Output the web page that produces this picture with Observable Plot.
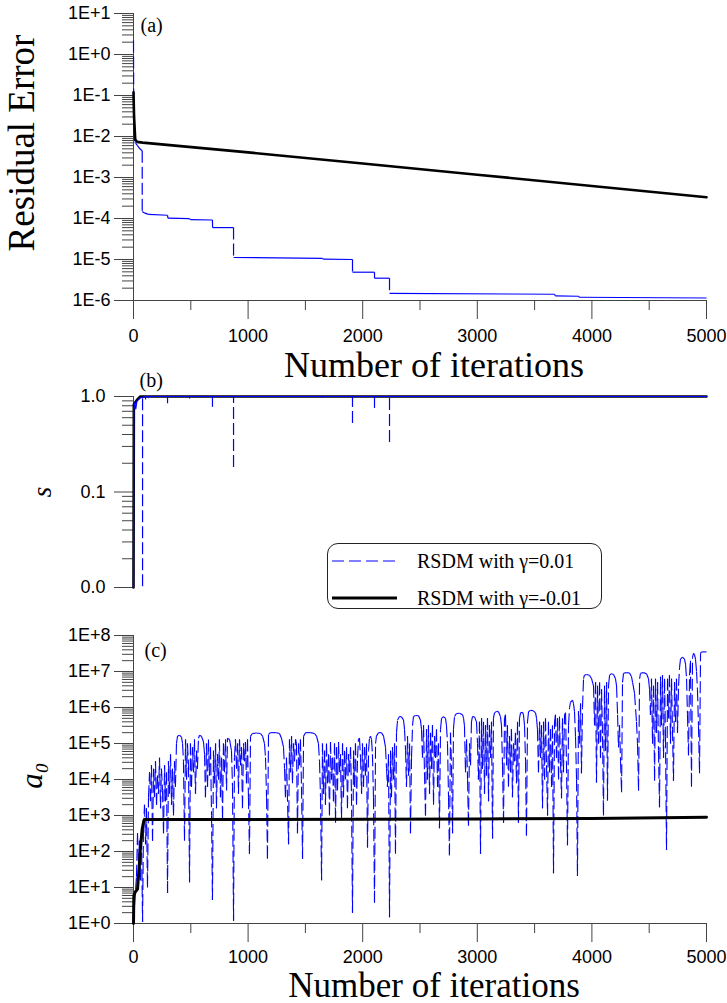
<!DOCTYPE html>
<html>
<head>
<meta charset="utf-8">
<script src="https://cdn.jsdelivr.net/npm/d3@7"></script>
<script src="https://cdn.jsdelivr.net/npm/@observablehq/plot@0.6"></script>
<style>
  html, body { margin: 0; padding: 0; background: #fff; }
  #fig { position: relative; width: 727px; height: 1003px; overflow: hidden; background: #fff; }
  #fig svg.panel { position: absolute; left: 0; }
  #legend { position: absolute; left: 327px; top: 543px; width: 273px; height: 64px;
            border: 1px solid #222; border-radius: 11px; background: #fff; }
</style>
</head>
<body>
<div id="fig"></div>
<script>
// ---- series: [iteration, value] ----
const seriesNames = ["RSDM with γ=0.01", "RSDM with γ=-0.01"];

// (a) residual error
const residualPos = [[0,2.2],[2,0.04],[5,0.015],[10,0.0072],[20,0.0068],[35,0.006],[55,0.005],[76,0.0045],
  [76,1.48e-4],[100,1.35e-4],[131,1.26e-4],[297,1.2e-4],[300,1.02e-4],[489,9.9e-5],[495,9.4e-5],[689,9.2e-5],
  [690,6.0e-5],[873,6.0e-5],[873,1.12e-5],[1649,1.07e-5],[1655,1.02e-5],[1911,1.0e-5],[1911,4.9e-6],[2103,4.9e-6],
  [2103,3.5e-6],[2234,3.5e-6],[2234,1.5e-6],[3674,1.42e-6],[3680,1.3e-6],[3883,1.27e-6],[3890,1.2e-6],[5000,1.15e-6]];
const residualNeg = [[0,0.12],[5,0.03],[15,0.0085],[30,0.0074],[80,0.0071],[1000,4.1e-3],[2000,2.2e-3],
  [3000,1.17e-3],[4000,6.2e-4],[5000,3.3e-4]];

// (b) step factor s
const sPos = [[0,0.01],[2,0.72],[10,0.86],[20,0.74],[30,0.9],[45,0.93],[60,0.97],[95,0.99],[120,1],[5000,1]];
const sPosDips = [[79,0.0102],[105,0.92],[131,0.95],[297,0.84],[489,0.94],[689,0.77],[873,0.18],[1649,0.96],
  [1911,0.52],[2103,0.75],[2234,0.33],[3674,0.97],[3883,0.97]];
const sNeg = [[0,0.01],[3,0.83],[30,0.92],[60,1],[5000,1]];

// (c) a0
const a0Pos = [
  [0,1],[9,3.2],[26,20],[35,320],[44,40],[52,200],[61,16],[70,250],[79,1.1],[87,400],[96,2000],[105,160],[113,1600],[122,10],[131,3200],
  [140,1.6e4],[148,2500],[157,2.5e4],[166,200],[175,2e4],[183,3200],[192,3.2e4],[201,2000],[209,1.3e4],[218,4000],[227,4e4],[236,1600],
  [244,2e4],[253,5000],[262,320],[271,2.5e4],[279,2500],[288,1.6e4],[297,7],[305,3.2e4],[314,4000],[323,5e4],[332,2000],[340,2e4],
  [349,1000],[358,3.2e4],[366,6300],
  [375,1e5],[384,1.6e5],[401,1.7e5],[419,1.5e5],[428,1e5],[436,3.2e4],[445,200],
  [454,1.3e5],[463,1e4],[471,1e5],[480,2.5e4],[489,14],[497,1e5],[506,6300],[515,7.9e4],[524,1.6e4],[532,1.3e5],[541,4000],[550,6.3e4],
  [558,2e4],[567,1.4e5],[576,1.7e5],[593,1.6e5],[611,1.1e5],[620,5e4],[628,3200],[637,1e5],[646,6300],[654,1.3e5],[663,1.3e4],[672,7.9e4],
  [681,1000],[689,4.5],[698,6.3e4],[707,7900],[716,1e5],[724,1600],[733,5e4],[742,1e4],[750,1.3e5],[759,3200],[768,4e4],[777,800],
  [785,1e5],[794,1.6e4],[803,1.3e5],[812,5000],[820,1.4e5],[838,1.3e5],[855,6.3e4],[864,6300],[873,1.2],[881,4e4],[890,1.3e5],[899,2e4],
  [908,1e5],[916,4000],[925,1.3e5],[934,2.5e4],[942,7.9e4],[951,1600],[960,1e5],[969,3.2e4],[977,1.1e5],[986,7900],[995,1.3e5],[1003,3200],
  [1012,87],
  [1021,1.6e5],[1038,1.9e5],[1073,1.95e5],[1108,1.9e5],[1126,1.6e5],[1143,1e5],[1152,4e4],[1161,3200],[1169,63],
  [1178,1.8e5],[1195,2e5],[1248,2e5],[1274,1.9e5],[1291,1.4e5],[1309,7.9e4],[1318,2e4],[1326,3200],[1335,4e4],[1353,160],
  [1361,1.3e5],[1370,1.6e4],[1379,1.6e5],[1387,7900],[1396,1e5],[1405,3.2e4],[1414,1.3e5],[1422,1e5],[1431,320],[1440,1e5],[1449,2.5e4],
  [1457,1.3e5],[1466,6300],[1475,63],
  [1484,1.6e5],[1501,2e5],[1545,2e5],[1579,1.9e5],[1597,1.6e5],[1614,1e5],[1623,3.2e4],[1632,3200],[1641,16],
  [1649,1e5],[1658,4000],[1667,6.3e4],[1675,2000],[1684,1e5],[1693,7900],[1702,5e4],[1710,1000],[1719,1.1e5],[1728,1e4],[1737,4e4],
  [1745,2500],[1754,1e5],[1763,630],[1771,7.9e4],[1780,5000],[1789,1.1e5],[1798,1.6e4],[1806,5e4],[1815,800],[1824,1e5],[1832,3200],
  [1841,6.3e4],[1850,1e4],[1859,7.9e4],[1867,1600],[1876,5e4],[1885,1.6e4],[1894,7.9e4],[1902,4000],[1911,2],[1920,6.3e4],[1928,6300],
  [1937,1e5],[1946,2000],[1955,4e4],[1963,1.3e5],[1972,1.4e5],[1981,4e4],[1990,4000],
  [1998,1e5],[2007,6300],[2016,7.9e4],[2024,1.3e4],[2033,1e5],[2042,130],[2051,6.3e4],
  [2059,1.4e5],[2068,1.6e5],[2077,1.3e5],[2085,5e4],[2094,3200],[2103,3.8],
  [2112,1e5],[2120,1.6e5],[2138,2e5],[2164,2e5],[2182,1.6e5],[2199,7.9e4],[2208,2e4],
  [2216,6300],[2225,5e4],[2234,1.5],[2243,6.3e4],[2251,3200],[2260,7.9e4],[2269,1e4],[2278,1e5],[2286,87],
  [2295,2e5],[2304,4.5e5],[2321,5.6e5],[2339,5.5e5],[2356,4.5e5],[2365,2.5e5],[2374,6.3e4],
  [2382,6300],[2391,1.6e5],[2400,1.3e4],[2409,1e5],[2417,320],[2426,4e4],
  [2435,3.2e5],[2443,5.6e5],[2461,6e5],[2487,5.9e5],[2504,4.5e5],[2513,2.5e5],
  [2522,4e4],[2531,3.2e5],[2539,1.6e4],[2548,1000],[2557,2.5e5],[2565,1e4],[2574,3.2e5],[2583,4000],[2592,2e5],[2600,2e4],[2609,3.2e5],
  [2618,2000],[2627,1.6e5],[2635,4e4],[2644,2.5e5],[2653,6300],[2661,1e5],[2670,440],
  [2679,2.5e5],[2688,5e5],[2705,5.6e5],[2723,5e5],[2731,3.2e5],[2740,1e5],[2749,3200],
  [2757,79],[2766,2e5],[2775,2.5e4],[2784,320],[2792,2.5e5],
  [2801,5.6e5],[2818,6.8e5],[2845,6.9e5],[2871,6.3e5],[2880,5e5],[2888,3.2e5],
  [2897,1.6e4],[2906,1.3e5],[2915,1e4],[2923,520],[2932,1e5],[2941,2.5e4],
  [2949,4e5],[2958,5.6e5],[2976,5.5e5],[2993,4e5],[3002,1e5],
  [3010,1e4],[3019,4e5],[3028,87],[3037,5e5],[3045,2e4],[3054,4e5],[3063,4000],[3072,3.2e5],[3080,1.3e4],[3089,5e5],[3098,2500],
  [3106,3.2e5],[3115,4e4],[3124,4e5],[3133,230],
  [3141,5e5],[3150,7.1e5],[3168,7.8e5],[3185,7.6e5],[3202,5.6e5],[3211,3.2e5],[3220,2.5e4],[3229,630],
  [3237,5e5],[3246,6.3e5],[3255,2.5e4],[3263,3.2e5],[3272,6300],[3281,1.6e5],[3290,1.6e4],[3298,2.5e5],[3307,3200],[3316,1e5],
  [3325,3.2e4],[3333,2e5],[3342,7900],[3351,4e5],[3359,630],
  [3368,5e5],[3377,7.1e5],[3394,7.4e5],[3403,6.3e5],[3412,3.2e5],[3421,3.2e4],[3429,280],
  [3438,4e5],[3447,7.6e5],[3464,8.3e5],[3490,8.1e5],[3508,7.1e5],[3517,5e5],[3525,2.5e5],
  [3534,1.6e4],[3543,4e5],[3552,4e4],[3560,3.2e5],[3569,1600],[3578,4e5],[3587,1e4],[3595,5e5],[3604,2.5e4],[3613,1000],[3621,4e5],
  [3630,1.6e4],[3639,2.5e5],[3648,6300],[3656,3.2e5],[3665,25],[3674,4e5],
  [3682,6.3e5],[3691,4e4],[3700,5e5],[3709,1e4],[3717,5.6e5],[3726,3.2e4],[3735,3000],[3743,5e5],[3752,1.6e4],[3761,6.3e5],[3770,7.1e5],
  [3778,3.2e4],[3787,150],
  [3796,3.2e5],[3805,1e6],[3813,1.4e6],[3831,1.6e6],[3839,1.3e6],[3848,7.9e5],[3857,1.6e5],[3866,1e4],[3874,21],
  [3883,7.9e5],[3892,1e5],[3901,1.3e6],[3909,1.5e4],[3918,1e6],
  [3927,6.3e6],[3935,7.9e6],[3953,8.3e6],[3979,7.9e6],[3997,6.3e6],[4014,4e6],
  [4023,3.2e5],[4032,5e6],[4040,8300],[4049,4e6],[4058,1e5],[4067,5e6],[4075,4e4],[4084,3.2e6],[4093,1.6e5],[4101,1000],[4110,4e6],
  [4119,6.3e4],[4128,5e6],[4136,2600],
  [4145,4e6],[4154,7.9e6],[4171,8.7e6],[4189,8.3e6],[4206,6.3e6],[4215,4e6],
  [4224,6.3e5],[4232,7.9e4],[4241,3.2e5],[4250,3.2e4],[4259,4400],
  [4267,5e6],[4276,8.9e6],[4302,9.3e6],[4328,9.1e6],[4346,7.1e6],[4355,5e6],[4372,2.5e6],[4389,4e5],[4398,1e5],[4407,4900],
  [4416,6.3e6],[4424,8.9e6],[4451,9.3e6],[4477,8.7e6],[4494,6.3e6],[4503,3.2e6],
  [4511,6.3e5],[4520,6.3e6],[4529,1e5],[4538,4e6],[4547,9300],[4555,6.3e6],[4564,2e5],[4573,5e6],[4581,6.3e4],[4590,1700],[4599,7.1e6],
  [4607,3.2e5],[4616,7.9e6],[4625,4e4],[4634,6.3e6],[4642,1.6e5],[4651,110],[4660,6.3e6],[4669,5e5],[4677,7.9e6],[4686,1e5],[4695,6.3e6],
  [4703,2.5e5],[4712,9300],[4721,5e6],[4730,4e5],[4738,6.3e6],[4747,2e5],[4756,4e6],
  [4765,1.3e7],[4773,2.2e7],[4791,2.5e7],[4808,2.2e7],[4817,1.6e7],[4826,6.3e6],[4834,6.3e5],[4843,4.7e4],[4852,7.9e6],
  [4860,2e7],[4869,6300],[4878,2.5e7],[4887,3.2e7],[4895,3e7],[4904,2.2e7],[4913,1e7],[4921,3.2e6],[4930,3.2e5],[4939,1.5e4],
  [4948,3.2e7],[4956,3.5e7],[5000,3.5e7]
];
const a0Neg = [[0,1],[3,6],[15,7.5],[35,9],[50,40],[61,130],[75,400],[90,730],[100,770],[110,775],
  [1000,775],[2000,785],[3000,800],[4000,830],[5000,890]];

// ---- axis ticks ----
const xMajor = [0, 1000, 2000, 3000, 4000, 5000];
const xMinor = [500, 1500, 2500, 3500, 4500];
const residualTicks = [1e-6, 1e-5, 1e-4, 1e-3, 1e-2, 1e-1, 1, 10];
const sTicks = [0.01, 0.1, 1];
const a0Ticks = [1, 10, 1e2, 1e3, 1e4, 1e5, 1e6, 1e7, 1e8];

// ---- helpers ----
const BLUE = "#0000ff", AXIS = "#444";
const SERIF = "'Liberation Serif', 'Times New Roman', serif";
const SANS = "'Liberation Sans', Arial, sans-serif";
const fmtE = d => { const e = Math.round(Math.log10(d)); return "1E" + (e < 0 ? "-" : "+") + Math.abs(e); };
const fmtInt = d3.format("d");
const none = () => "";
function logMinors(lo, hi) {
  const out = [];
  for (let e = Math.floor(Math.log10(lo)); e < Math.ceil(Math.log10(hi)); e++)
    for (let m = 2; m <= 9; m++) { const v = m * Math.pow(10, e); if (v > lo * 1.0001 && v < hi * 0.9999) out.push(v); }
  return out;
}
const segments = pts => d3.pairs(pts).map(([a, b]) => ({x1: a[0], y1: a[1], x2: b[0], y2: b[1]}));
const X = d => d[0], Y = d => d[1];

function yAxes(ticks, fmt, pad) {
  const [lo, hi] = d3.extent(ticks);
  return [
    Plot.axisY({ticks, tickSize: 19, tickPadding: pad, tickFormat: fmt, stroke: AXIS, label: null,
                fontSize: 18, fontFamily: SANS}),
    Plot.axisY({ticks: logMinors(lo, hi), tickSize: 11, tickFormat: none, stroke: AXIS, label: null}),
    Plot.ruleX([0], {stroke: AXIS})
  ];
}
function xAxes(yBase, pad) {
  return [
    Plot.axisX({ticks: xMajor, tickSize: 19, tickPadding: pad, tickFormat: fmtInt, stroke: AXIS, label: null,
                fontSize: 18, fontFamily: SANS}),
    Plot.axisX({ticks: xMinor, tickSize: 10, tickFormat: none, stroke: AXIS, label: null}),
    Plot.ruleY([yBase], {stroke: AXIS})
  ];
}
const base = {width: 727, marginLeft: 133, marginRight: 21,
              style: {background: "transparent", color: "#000", fontFamily: SANS}};
const panelTag = (t, dx, dy) => Plot.text([t], {frameAnchor: "top-left", textAnchor: "start", lineAnchor: "middle",
                                                dx, dy, fontSize: 20, fontFamily: SERIF});
const xTitle = (dy, size) => Plot.text(["Number of iterations"], {frameAnchor: "bottom", textAnchor: "middle", lineAnchor: "bottom",
                                                                  dx: 14, dy, fontSize: size, fontFamily: SERIF});

const fig = document.getElementById("fig");
function place(svg, top) { svg.classList.add("panel"); svg.style.top = top + "px"; fig.appendChild(svg); }

// ---- (a) residual error ----
const segRes = segments(residualPos);
place(Plot.plot({
  ...base, height: 384, marginTop: 13, marginBottom: 84,
  x: {domain: [0, 5000]},
  y: {type: "log", domain: [1e-6, 10]},
  marks: [
    ...yAxes(residualTicks, fmtE, 4),
    ...xAxes(1e-6, 10),
    Plot.link(segRes.filter(s => s.x2 - s.x1 >= 10), {x1: "x1", y1: "y1", x2: "x2", y2: "y2", stroke: BLUE, strokeWidth: 1.2}),
    Plot.link(segRes.filter(s => s.x2 - s.x1 < 10), {x1: "x1", y1: "y1", x2: "x2", y2: "y2", stroke: BLUE, strokeWidth: 1.2, strokeDasharray: "12,4"}),
    Plot.line(residualNeg, {x: X, y: Y, stroke: "#000", strokeWidth: 2.6}),
    panelTag("(a)", 7, 12),
    xTitle(76, 36),
    Plot.text(["Residual Error"], {frameAnchor: "left", textAnchor: "middle", lineAnchor: "middle", rotate: -90,
                                   dx: -111, dy: -14, fontSize: 37, fontFamily: SERIF})
  ]
}), 0);

// ---- (b) s ----
place(Plot.plot({
  ...base, height: 240, marginTop: 26, marginBottom: 23,
  x: {domain: [0, 5000], axis: null},
  y: {type: "log", domain: [0.01, 1]},
  marks: [
    ...yAxes(sTicks, d3.format(".1f"), 9),
    Plot.line(sNeg, {x: X, y: Y, stroke: "#000", strokeWidth: 2.6}),
    Plot.line(sPos, {x: X, y: Y, stroke: BLUE, strokeWidth: 1.2}),
    Plot.ruleX(sPosDips, {x: X, y1: Y, y2: 1, stroke: BLUE, strokeWidth: 1.2, strokeDasharray: "12,4"}),
    panelTag("(b)", 6, -16),
    Plot.text(["s"], {frameAnchor: "left", textAnchor: "middle", lineAnchor: "middle", rotate: -90,
                      dx: -91, dy: 0, fontSize: 27, fontStyle: "italic", fontFamily: SERIF})
  ]
}), 370);

// ---- (c) a0 ----
place(Plot.plot({
  ...base, height: 391, marginTop: 23, marginBottom: 80,
  x: {domain: [0, 5000]},
  y: {type: "log", domain: [1, 1e8]},
  marks: [
    ...yAxes(a0Ticks, fmtE, 4),
    ...xAxes(1, 8),
    Plot.link(segments(a0Pos), {x1: "x1", y1: "y1", x2: "x2", y2: "y2", stroke: BLUE, strokeWidth: 1.1, strokeDasharray: "12,4"}),
    Plot.line(a0Neg, {x: X, y: Y, stroke: "#000", strokeWidth: 3}),
    panelTag("(c)", 11, 15),
    xTitle(73, 35),
    Plot.text(["a₀"], {frameAnchor: "left", textAnchor: "middle", lineAnchor: "middle", rotate: -90,
                       dx: -101, dy: -4, fontSize: 31, fontStyle: "italic", fontFamily: SERIF})
  ]
}), 612);

// ---- legend ----
const legend = d3.select(fig).append("div").attr("id", "legend");
const lsvg = legend.append("svg").attr("width", 273).attr("height", 64);
const swatches = [
  {name: seriesNames[0], stroke: BLUE, width: 1.2, dash: "12,5"},
  {name: seriesNames[1], stroke: "#000", width: 3, dash: null}
];
swatches.forEach((s, i) => {
  const y = 17 + i * 37;
  lsvg.append("line").attr("x1", 4).attr("x2", 69).attr("y1", y).attr("y2", y)
    .attr("stroke", s.stroke).attr("stroke-width", s.width).attr("stroke-dasharray", s.dash);
  lsvg.append("text").attr("x", 89).attr("y", y + 7).attr("font-family", SERIF).attr("font-size", 20)
    .attr("fill", "#000").text(s.name);
});
</script>
</body>
</html>
